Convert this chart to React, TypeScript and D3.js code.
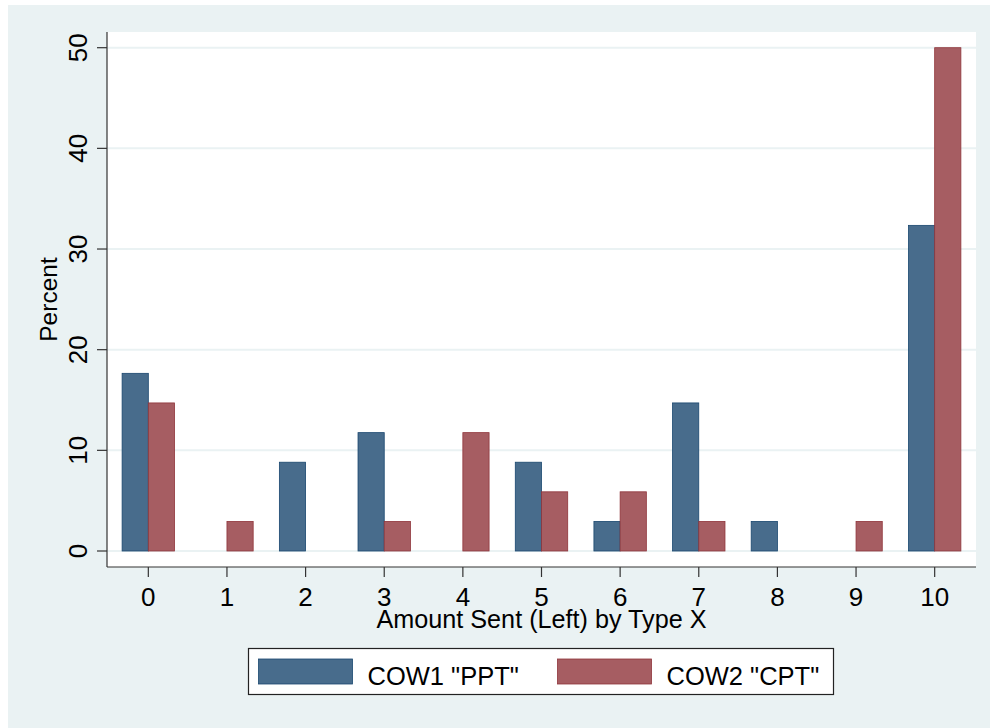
import React from "react";
import * as d3 from "d3";

const categories = [0, 1, 2, 3, 4, 5, 6, 7, 8, 9, 10];
const ppt = [17.65, 0, 8.82, 11.76, 0, 8.82, 2.94, 14.71, 2.94, 0, 32.35];
const cpt = [14.71, 2.94, 0, 2.94, 11.76, 5.88, 5.88, 2.94, 0, 2.94, 50];
const yTicks = [0, 10, 20, 30, 40, 50];
const seriesNames = ['COW1 "PPT"', 'COW2 "CPT"'];

const W = 990;
const H = 728;
const BG = "#EAF2F3";
const FILLS = ["#486C8C", "#A65D62"];
const STROKES = ["#1A476F", "#90353B"];
const FONT = "Liberation Sans, Arial, Helvetica, sans-serif";

export default function App() {
  const left = 107, right = 976, top = 32, bottom = 567;
  const x = d3.scaleLinear().domain([-0.5255, 10.5255]).range([left, right]);
  const y = d3.scaleLinear().domain([0, 50]).range([551, 47.7]);
  const bw = 1 / 3;
  const series = [ppt, cpt];

  return (
    <div style={{ position: "absolute", left: 0, top: 0 }}>
      <svg width={W} height={H} style={{ display: "block" }}>
        <rect x={0} y={0} width={W} height={H} fill="#ffffff" />
        <rect x={8} y={5} width={W - 8} height={H - 5} fill={BG} />
        <rect x={left} y={top} width={right - left} height={bottom - top} fill="#ffffff" />
        {yTicks.map((t) => (
          <line key={"g" + t} x1={left} x2={right} y1={y(t)} y2={y(t)} stroke={BG} strokeWidth={2} />
        ))}
        {series.map((vals, si) =>
          categories.map((c, i) => {
            const v = vals[i];
            if (v <= 0) return null;
            const x0 = x(c + (si === 0 ? -bw : 0));
            const x1 = x(c + (si === 0 ? 0 : bw));
            return (
              <rect
                key={si + "-" + c}
                x={x0}
                y={y(v)}
                width={x1 - x0}
                height={y(0) - y(v)}
                fill={FILLS[si]}
                stroke={STROKES[si]}
                strokeWidth={0.8}
              />
            );
          })
        )}
        {/* y axis */}
        <line x1={left} x2={left} y1={top} y2={bottom} stroke="#333" strokeWidth={1.2} />
        {yTicks.map((t) => (
          <g key={"yt" + t}>
            <line x1={left - 10} x2={left} y1={y(t)} y2={y(t)} stroke="#333" strokeWidth={1.2} />
            <text
              transform={`translate(87,${y(t)}) rotate(-90)`}
              textAnchor="middle"
              fontFamily={FONT}
              fontSize={26}
              fill="#000"
            >
              {t}
            </text>
          </g>
        ))}
        <text
          transform={`translate(57,${(top + bottom) / 2}) rotate(-90)`}
          textAnchor="middle"
          fontFamily={FONT}
          fontSize={24.5}
          fill="#000"
        >
          Percent
        </text>
        {/* x axis */}
        <line x1={left} x2={right} y1={bottom} y2={bottom} stroke="#333" strokeWidth={1.2} />
        {categories.map((c) => (
          <g key={"xt" + c}>
            <line x1={x(c)} x2={x(c)} y1={bottom} y2={bottom + 10} stroke="#333" strokeWidth={1.2} />
            <text x={x(c)} y={606} textAnchor="middle" fontFamily={FONT} fontSize={26} fill="#000">
              {c}
            </text>
          </g>
        ))}
        <text x={(left + right) / 2} y={627.5} textAnchor="middle" fontFamily={FONT} fontSize={25.2} fill="#000">
          Amount Sent (Left) by Type X
        </text>
        {/* legend */}
        <rect x={248.5} y={648.5} width={585} height={46} fill="#ffffff" stroke="#222" strokeWidth={1.2} />
        {seriesNames.map((name, i) => {
          const sx = i === 0 ? 258.5 : 557.5;
          return (
            <g key={name}>
              <rect x={sx} y={659} width={94} height={25} fill={FILLS[i]} stroke={STROKES[i]} strokeWidth={0.8} />
              <text x={sx + 109} y={685} fontFamily={FONT} fontSize={25.5} fill="#000">
                {name}
              </text>
            </g>
          );
        })}
      </svg>
    </div>
  );
}
